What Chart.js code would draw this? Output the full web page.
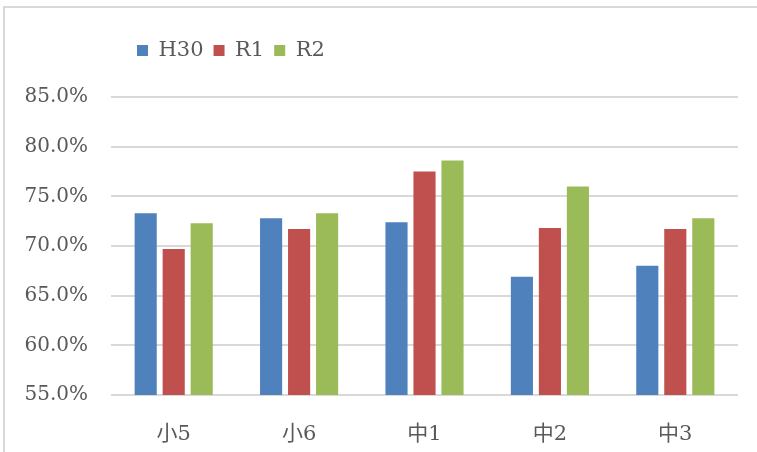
<!DOCTYPE html>
<html>
<head>
<meta charset="utf-8">
<script src="https://cdn.jsdelivr.net/npm/chart.js@4/dist/chart.umd.min.js"></script>
<style>
  body { margin: 0; background: #fff; }
  .wrapper { position: relative; width: 757px; height: 452px; overflow: hidden; }
  .frame { position: absolute; left: 3px; top: 6px; width: 800px; height: 500px;
           border-left: 2px solid #d9d9d9; border-top: 2px solid #d9d9d9; pointer-events: none; }
</style>
</head>
<body>
<div class="wrapper">
  <canvas id="stat" width="757" height="452"></canvas>
  <div class="frame"></div>
</div>
<script>
const categories = ["小5", "小6", "中1", "中2", "中3"];
const seriesNames = ["H30", "R1", "R2"];
const h30 = [73.3, 72.8, 72.4, 66.9, 68.0];
const r1 = [69.7, 71.7, 77.5, 71.8, 71.7];
const r2 = [72.3, 73.3, 78.6, 76.0, 72.8];
const colors = ["#4F81BD", "#C0504D", "#9BBB59"];

const fontFamily = "'DejaVu Serif', 'Noto Sans CJK JP', serif";
const textColor = "#595959";

// move legend to the right and leave room under it
const legendTweak = {
  id: "legendTweak",
  beforeInit(chart) {
    const fit = chart.legend.fit;
    chart.legend.fit = function () {
      fit.bind(this)();
      this.height = 67;
    };
  },
  afterLayout(chart) {
    chart.legend.left = 127;
  },
};

const ctx = document.querySelector("#stat").getContext("2d");

const chart = new Chart(ctx, {
  type: "bar",
  data: {
    labels: categories,
    datasets: [h30, r1, r2].map((values, i) => ({
      label: seriesNames[i],
      data: values,
      backgroundColor: colors[i],
      categoryPercentage: 0.67,
      barPercentage: 0.79,
    })),
  },
  options: {
    responsive: false,
    animation: false,
    layout: { padding: { left: 10, right: 19, top: 30, bottom: 0 } },
    plugins: {
      legend: {
        position: "top",
        align: "start",
        labels: {
          boxWidth: 11,
          boxHeight: 11,
          padding: 10,
          color: textColor,
          font: { family: fontFamily, size: 21 },
        },
      },
      tooltip: { enabled: false },
    },
    scales: {
      x: {
        grid: { display: false },
        border: { display: false },
        ticks: { color: textColor, font: { family: fontFamily, size: 21 }, padding: 19 },
        afterFit(scale) { scale.height = 57; },
      },
      y: {
        min: 55,
        max: 85,
        ticks: {
          stepSize: 5,
          padding: 23,
          color: textColor,
          font: { family: fontFamily, size: 20 },
          callback: (v) => v.toFixed(1) + "%",
        },
        grid: { color: "#d9d9d9", lineWidth: 2, drawTicks: false },
        border: { display: false },
        afterFit(scale) { scale.width = 101; },
      },
    },
  },
  plugins: [legendTweak],
});
</script>
</body>
</html>
